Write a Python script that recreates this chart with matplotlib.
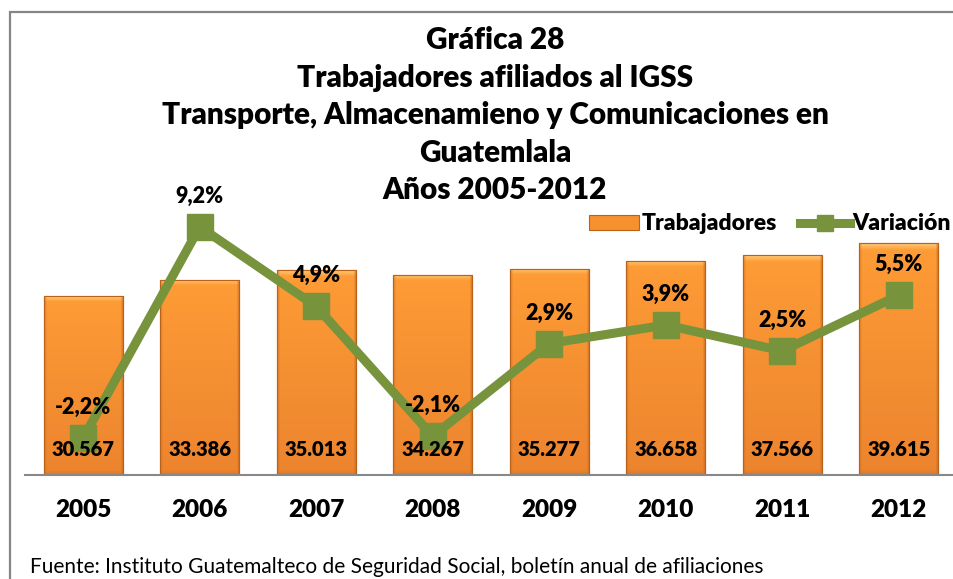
import numpy as np
import matplotlib
matplotlib.use("Agg")
import matplotlib.pyplot as plt
from matplotlib.patches import Rectangle
from matplotlib.lines import Line2D
from matplotlib.colors import to_rgb

# ---- data ----
years = ["2005", "2006", "2007", "2008", "2009", "2010", "2011", "2012"]
workers = [30567, 33386, 35013, 34267, 35277, 36658, 37566, 39615]
variation = [-2.2, 9.2, 4.9, -2.1, 2.9, 3.9, 2.5, 5.5]
title_lines = ["Gráfica 28", "Trabajadores afiliados al IGSS",
               "Transporte, Almacenamieno y Comunicaciones en", "Guatemlala",
               "Años 2005-2012"]
source_note = "Fuente: Instituto Guatemalteco de Seguridad Social, boletín anual de afiliaciones"

plt.rcParams['font.family'] = ['Lato', 'DejaVu Sans']
BOLD = 800

W, H = 954, 579
fig = plt.figure(figsize=(W / 100, H / 100), dpi=100)

ax = fig.add_axes([25 / W, 104 / H, 932 / W, 263 / H])
ax2 = ax.twinx()

x = np.arange(len(years))
GREEN = "#77933C"
EDGE = "#B8621A"

bars = ax.bar(x, workers, width=0.68, color="#F7902F", edgecolor=EDGE,
              linewidth=0.8, zorder=2)

# bevel / gradient fill for every bar
def bar_image(nr=210, nc=80):
    top = np.array(to_rgb("#FE9C36"))
    bot = np.array(to_rgb("#EC842E"))
    t = np.linspace(0, 1, nr)[:, None, None]
    img = top * (1 - t) + bot * t
    img = np.repeat(img, nc, axis=1)
    light = np.array(to_rgb("#FFD080"))
    for k in range(6):
        w = 0.85 * (1 - k / 6)
        img[k, :, :] = light * w + img[k, :, :] * (1 - w)
    dark = np.array(to_rgb("#C8681E"))
    for k in range(3):
        w = 0.8 * (1 - k / 3)
        img[:, -1 - k, :] = dark * w + img[:, -1 - k, :] * (1 - w)
        img[:, k, :] = dark * (w * 0.6) + img[:, k, :] * (1 - w * 0.6)
    botb = np.array(to_rgb("#D5732A"))
    for k in range(5):
        w = 0.7 * (1 - k / 5)
        img[-1 - k, :, :] = botb * w + img[-1 - k, :, :] * (1 - w)
    return img

img = bar_image()
for r in bars:
    im = ax.imshow(img, extent=(r.get_x(), r.get_x() + r.get_width(), 0, r.get_height()),
                   aspect='auto', zorder=2.1, interpolation='bilinear')
    im.set_clip_path(r)
    ax.add_patch(Rectangle((r.get_x(), 0), r.get_width(), r.get_height(),
                           fill=False, edgecolor=EDGE, linewidth=0.8, zorder=2.2))

ax.set_xlim(-0.5, len(years) - 0.5)
ax.set_ylim(0, 45000)
ax2.set_ylim(-4.2, 10.0)

ax2.plot(x, variation, color=GREEN, linewidth=6.5, marker="s", markersize=19,
         markerfacecolor=GREEN, markeredgecolor=GREEN, solid_joinstyle='miter', zorder=3)

# labels
for i, v in enumerate(variation):
    ax2.annotate(f"{v:.1f}%".replace(".", ","), xy=(i, v), xytext=(0, 22),
                 textcoords="offset points", ha="center", va="center",
                 fontsize=15.5, fontweight=BOLD, color="black", zorder=5)
for i, v in enumerate(workers):
    ax2.annotate(f"{v:,}".replace(",", "."), xy=(i, 0), xycoords=ax.transData,
                 xytext=(0, 18), textcoords="offset points", ha="center", va="center",
                 fontsize=14.5, fontweight=BOLD, color="black", zorder=5)

for a in (ax, ax2):
    for s in ("top", "right", "left"):
        a.spines[s].set_visible(False)
    a.set_yticks([])
ax.spines["bottom"].set_color("#888888")
ax.spines["bottom"].set_linewidth(1.5)
ax2.spines["bottom"].set_visible(False)
ax.set_xticks(x)
ax.set_xticklabels(years, fontsize=17.5, fontweight=BOLD)
ax.tick_params(axis="x", length=0, pad=17)

# title
for k, line in enumerate(title_lines):
    fig.text(495 / W, 1 - (40 + k * 37.6) / H, line, ha="center", va="center",
             fontsize=21.4, fontweight=BOLD)

# legend
h_bar = Rectangle((0, 0), 1, 1, facecolor="#F7902F", edgecolor=EDGE, linewidth=0.8)
h_line = Line2D([], [], color=GREEN, linewidth=6.5, marker="s", markersize=12)
fig.legend([h_bar, h_line], ["Trabajadores", "Variación"], loc="center right",
           bbox_to_anchor=(960 / W, 1 - 224 / H), ncol=2, frameon=False,
           prop={"weight": BOLD, "size": 16.5}, handlelength=2.2, handleheight=0.6,
           handletextpad=0.1, columnspacing=1.0, borderaxespad=0)

fig.text(30 / W, 1 - 567 / H, source_note, ha="left", va="center", fontsize=15.05)

# chart border
fig.add_artist(Rectangle((10 / W, -0.2), 1.2, 1.2 - 12 / H, transform=fig.transFigure,
                         fill=False, edgecolor="#868686", linewidth=1.6))

fig.savefig("out.png", dpi=100)
